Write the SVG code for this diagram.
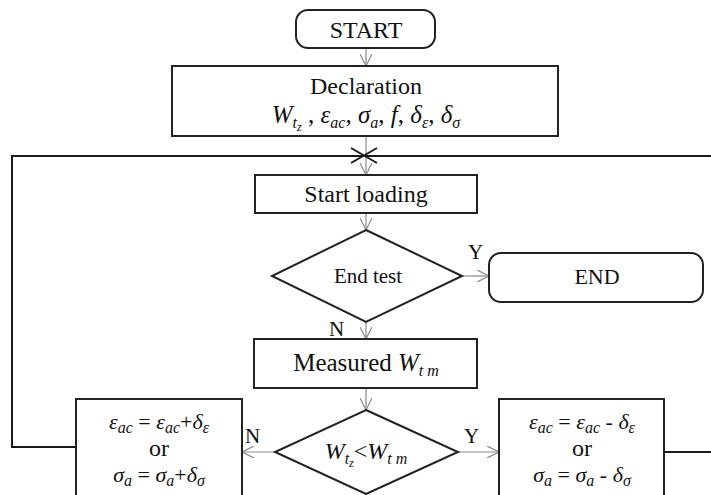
<svg xmlns="http://www.w3.org/2000/svg" width="711" height="495" viewBox="0 0 711 495">
  <style>
    .box { fill: #fff; stroke: #222; stroke-width: 2; }
    .t { font-family: "Liberation Serif", "Times New Roman", serif; fill: #111; }
    .m { font-family: "Liberation Serif", "Times New Roman", serif; font-style: italic; fill: #111; }
    .up { font-style: normal; }
    .s { font-size: 16px; }
    .ss { font-size: 12px; }
    .flow { fill: none; stroke: #8a8a8a; stroke-width: 1.2; }
    .loop { fill: none; stroke: #1a1a1a; stroke-width: 2; }
    .lbl { font-family: "Liberation Serif", "Times New Roman", serif; font-size: 21px; fill: #111; }
  </style>
  <defs>
    <marker id="arr" viewBox="0 0 12 12" refX="12" refY="6" markerWidth="12" markerHeight="12" markerUnits="userSpaceOnUse" orient="auto">
      <path d="M0,0 L12,6 L0,12" fill="none" stroke="#8a8a8a" stroke-width="1.2"/>
    </marker>
  </defs>

  <!-- connectors -->
  <g id="connectors">
    <path class="flow" d="M366,48 V66" marker-end="url(#arr)"/>
    <path class="flow" d="M366,136 V175" marker-end="url(#arr)"/>
    <path class="flow" d="M366,213 V230" marker-end="url(#arr)"/>
    <path class="flow" d="M462,276 H489" marker-end="url(#arr)"/>
    <path class="flow" d="M366,322 V339" marker-end="url(#arr)"/>
    <path class="flow" d="M366,388 V410" marker-end="url(#arr)"/>
    <path class="flow" d="M275,452 H242" marker-end="url(#arr)"/>
    <path class="flow" d="M458,452 H499" marker-end="url(#arr)"/>
    <!-- feedback loops -->
    <path class="loop" d="M76,447 H12 V156 H711"/>
    <path class="loop" d="M664,452 H711"/>
    <!-- junction mark -->
    <path class="loop" d="M351,148 L377,163 M351,163 L377,148" stroke-width="1.8"/>
    <text class="lbl" x="468" y="259">Y</text>
    <text class="lbl" x="329" y="336">N</text>
    <text class="lbl" x="245" y="443">N</text>
    <text class="lbl" x="464" y="443">Y</text>
  </g>

  <g id="start">
    <rect class="box" x="296" y="10" width="139" height="38" rx="12"/>
    <text class="t" x="366" y="38" font-size="24" text-anchor="middle">START</text>
  </g>

  <g id="declaration">
    <rect class="box" x="172" y="66" width="386" height="70"/>
    <text class="t" x="366" y="94" font-size="24" text-anchor="middle">Declaration</text>
    <text class="m" x="366" y="123" font-size="25" text-anchor="middle">W<tspan class="s" dy="5">t</tspan><tspan class="ss" dy="3">z</tspan><tspan class="up" dy="-8"> , </tspan>ε<tspan class="s" dy="5">ac</tspan><tspan class="up" dy="-5">, </tspan>σ<tspan class="s" dy="5">a</tspan><tspan class="up" dy="-5">, </tspan>f<tspan class="up">, </tspan>δ<tspan class="s" dy="5">ε</tspan><tspan class="up" dy="-5">, </tspan>δ<tspan class="s" dy="5">σ</tspan></text>
  </g>

  <g id="start-loading">
    <rect class="box" x="255" y="175" width="222" height="38"/>
    <text class="t" x="366" y="202" font-size="24" text-anchor="middle">Start loading</text>
  </g>

  <g id="end-test">
    <path class="box" d="M366,230 L462,276 L366,322 L272,276 Z"/>
    <text class="t" x="368" y="283" font-size="21" text-anchor="middle">End test</text>
  </g>

  <g id="end">
    <rect class="box" x="489" y="253" width="214" height="49" rx="12"/>
    <text class="t" x="597" y="284" font-size="22" text-anchor="middle">END</text>
  </g>

  <g id="measured">
    <rect class="box" x="254" y="339" width="223" height="49"/>
    <text class="t" x="366" y="371" font-size="25" text-anchor="middle">Measured <tspan class="m">W</tspan><tspan class="m s" dy="5">t m</tspan></text>
  </g>

  <g id="compare">
    <path class="box" d="M366,410 L458,452 L366,494 L275,452 Z"/>
    <text class="m" x="366" y="459" font-size="24" text-anchor="middle">W<tspan class="s" dy="5">t</tspan><tspan class="ss" dy="3">z</tspan><tspan class="up" dy="-8">&lt;</tspan>W<tspan class="s" dy="5">t m</tspan></text>
  </g>

  <g id="increase">
    <rect class="box" x="76" y="399" width="166" height="110"/>
    <text class="m" x="159" y="429" font-size="22" text-anchor="middle">ε<tspan class="s" dy="4">ac</tspan><tspan class="up" dy="-4"> = </tspan>ε<tspan class="s" dy="4">ac</tspan><tspan class="up" dy="-4">+</tspan>δ<tspan class="s" dy="4">ε</tspan></text>
    <text class="t" x="159" y="456" font-size="24" text-anchor="middle">or</text>
    <text class="m" x="159" y="482" font-size="22" text-anchor="middle">σ<tspan class="s" dy="4">a</tspan><tspan class="up" dy="-4"> = </tspan>σ<tspan class="s" dy="4">a</tspan><tspan class="up" dy="-4">+</tspan>δ<tspan class="s" dy="4">σ</tspan></text>
  </g>

  <g id="decrease">
    <rect class="box" x="499" y="399" width="165" height="110"/>
    <text class="m" x="582" y="429" font-size="22" text-anchor="middle">ε<tspan class="s" dy="4">ac</tspan><tspan class="up" dy="-4"> = </tspan>ε<tspan class="s" dy="4">ac</tspan><tspan class="up" dy="-4"> - </tspan>δ<tspan class="s" dy="4">ε</tspan></text>
    <text class="t" x="582" y="456" font-size="24" text-anchor="middle">or</text>
    <text class="m" x="582" y="482" font-size="22" text-anchor="middle">σ<tspan class="s" dy="4">a</tspan><tspan class="up" dy="-4"> = </tspan>σ<tspan class="s" dy="4">a</tspan><tspan class="up" dy="-4"> - </tspan>δ<tspan class="s" dy="4">σ</tspan></text>
  </g>
</svg>
